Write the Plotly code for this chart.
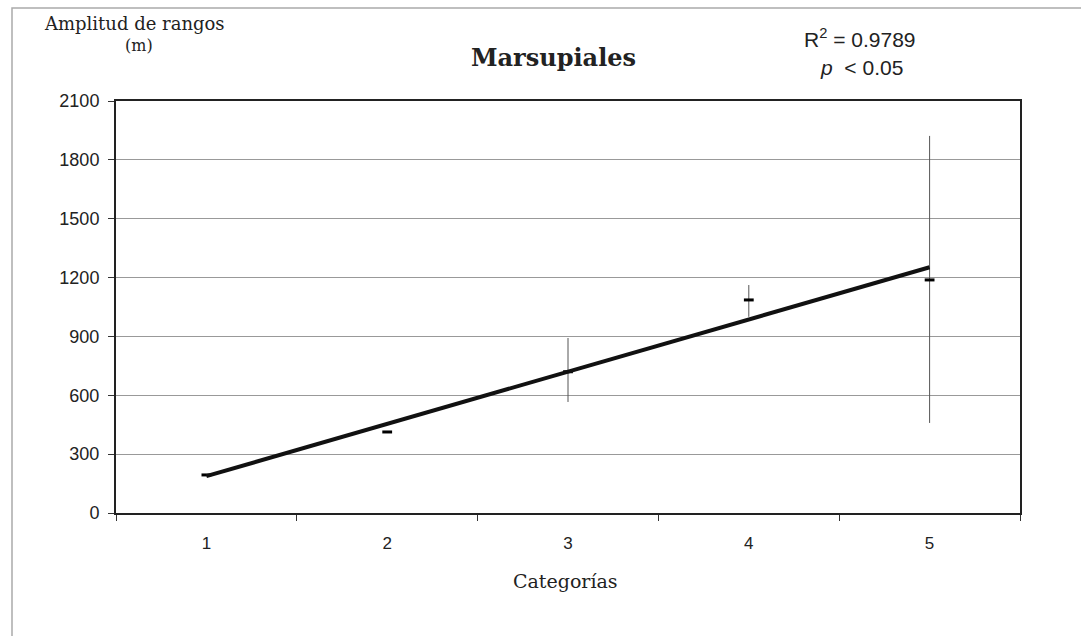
import numpy as np
import plotly.graph_objects as go

categories = ["1", "2", "3", "4", "5"]
means = [194, 413, 720, 1086, 1188]
highs = [194, 413, 892, 1162, 1922]
lows = [194, 413, 566, 1000, 459]
y_ticks = [0, 300, 600, 900, 1200, 1500, 1800, 2100]

xnum = np.arange(1, len(categories) + 1)
slope, intercept = np.polyfit(xnum, means, 1)
trend = slope * xnum + intercept

err_plus = [h - m for h, m in zip(highs, means)]
err_minus = [m - l for m, l in zip(means, lows)]

W, H = 1081, 636
L, R, T, B = 116, 1020, 101, 513

def px(x):
    return (x - L) / (R - L)

def py(y):
    return (B - y) / (B - T)

fig = go.Figure()
fig.add_trace(go.Scatter(
    x=categories, y=means, mode="markers",
    marker=dict(symbol="line-ew", size=7, color="black",
                line=dict(color="black", width=3)),
    error_y=dict(type="data", symmetric=False, array=err_plus,
                 arrayminus=err_minus, width=0, thickness=1, color="#555"),
    showlegend=False, hoverinfo="skip"))
fig.add_trace(go.Scatter(
    x=categories, y=trend, mode="lines",
    line=dict(color="#111", width=4), showlegend=False, hoverinfo="skip"))

fig.update_layout(
    width=W, height=H,
    margin=dict(l=L, r=W - R, t=T, b=H - B, pad=0),
    paper_bgcolor="white", plot_bgcolor="white",
    font=dict(family="Liberation Sans", color="#222"),
    xaxis=dict(type="category", tickson="boundaries", ticks="outside",
               ticklen=6, tickcolor="#333", showgrid=False,
               showline=True, linecolor="#222", linewidth=2, mirror=True,
               ticklabelstandoff=14,
               tickfont=dict(size=17, family="Liberation Sans", color="#222"),
               range=[-0.5, 4.5]),
    yaxis=dict(range=[0, 2100], tickvals=y_ticks, ticks="outside", ticklen=6,
               tickcolor="#333", showgrid=True, gridcolor="#999", gridwidth=1,
               showline=True, linecolor="#222", linewidth=2, mirror=True,
               zeroline=False, ticklabelstandoff=5,
               tickfont=dict(size=18, family="Liberation Sans", color="#222")),
)

ann = [
    dict(text="Amplitud de rangos", x=px(134), y=py(24),
         font=dict(family="DejaVu Serif", size=18, color="#222")),
    dict(text="(m)", x=px(139), y=py(46),
         font=dict(family="DejaVu Serif", size=16, color="#222")),
    dict(text="<b>Marsupiales</b>", x=px(553), y=py(57),
         font=dict(family="DejaVu Serif", size=24, color="#222")),
    dict(text="R<sup>2</sup> = 0.9789", x=px(860), y=py(38),
         font=dict(family="Liberation Sans", size=21, color="#222")),
    dict(text="<i>p</i>  < 0.05", x=px(861), y=py(68),
         font=dict(family="Liberation Sans", size=21, color="#222")),
    dict(text="Categorías", x=px(565), y=py(581),
         font=dict(family="DejaVu Serif", size=19, color="#222")),
]
for a in ann:
    fig.add_annotation(xref="paper", yref="paper", showarrow=False,
                       xanchor="center", yanchor="middle", **a)

# outer frame
fig.add_shape(type="rect", xref="paper", yref="paper",
              x0=px(12), x1=px(1095), y0=py(650), y1=py(8),
              line=dict(color="#aaa", width=1.5), layer="below")

fig.write_html("out.html")
